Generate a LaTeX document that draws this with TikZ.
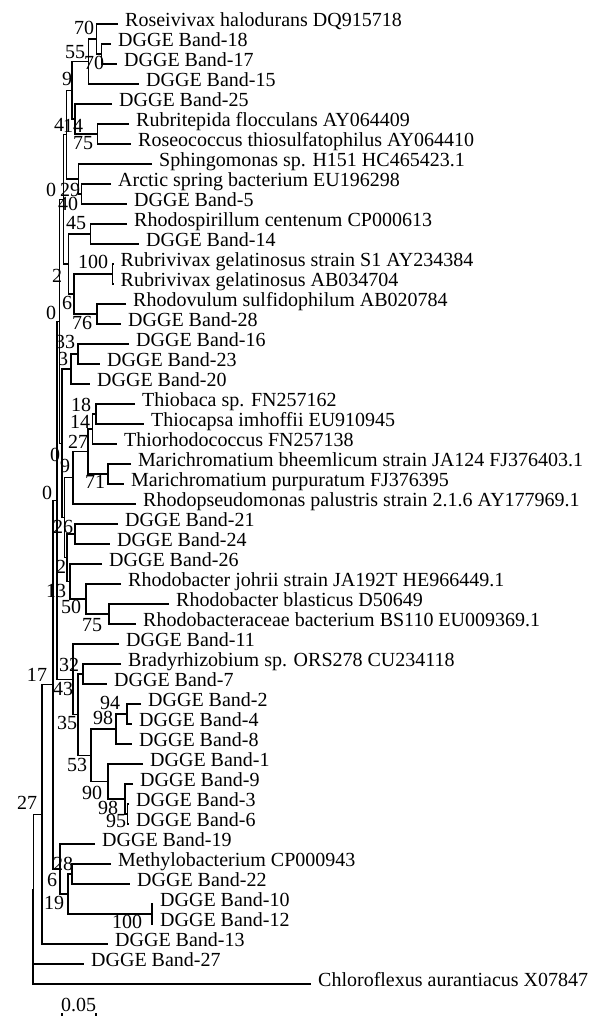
\documentclass[tikz,border=0pt]{standalone}
\usepackage{fontspec}
\setmainfont{Liberation Serif}
\newcommand\treefont{\fontsize{20}{24}\selectfont}
\newcommand\leaf[4]{\coordinate (#1) at (#2,#3); \node[leafnode] (t#1) at (#2+7,#3) {#4};}
\begin{document}
\begin{tikzpicture}[x=1pt,y=-1pt,
  br/.style={line width=1.1pt},
  leafnode/.style={anchor=mid west, inner sep=0pt, font=\treefont},
  bs/.style={inner sep=0pt, font=\treefont}]
\useasboundingbox (0,0) rectangle (594,1016);
% leaves
\leaf{L1}{118}{24}{Roseivivax halodurans DQ915718}
\leaf{L2}{111}{44}{DGGE Band-18}
\leaf{L3}{117}{64}{DGGE Band-17}
\leaf{L4}{139}{84}{DGGE Band-15}
\leaf{L5}{112}{104}{DGGE Band-25}
\leaf{L6}{129}{124}{Rubritepida flocculans AY064409}
\leaf{L7}{131}{144}{Roseococcus thiosulfatophilus AY064410}
\leaf{L8}{152}{164}{Sphingomonas sp. H151 HC465423.1}
\leaf{L9}{111}{184}{Arctic spring bacterium EU196298}
\leaf{L10}{127}{204}{DGGE Band-5}
\leaf{L11}{127}{224}{Rhodospirillum centenum CP000613}
\leaf{L12}{139}{244}{DGGE Band-14}
\leaf{L13}{113.5}{264}{Rubrivivax gelatinosus strain S1 AY234384}
\leaf{L14}{113.5}{284}{Rubrivivax gelatinosus AB034704}
\leaf{L15}{126}{304}{Rhodovulum sulfidophilum AB020784}
\leaf{L16}{121}{324}{DGGE Band-28}
\leaf{L17}{129}{344}{DGGE Band-16}
\leaf{L18}{100}{364}{DGGE Band-23}
\leaf{L19}{90}{384}{DGGE Band-20}
\leaf{L20}{135}{404}{Thiobaca sp. FN257162}
\leaf{L21}{144}{424}{Thiocapsa imhoffii EU910945}
\leaf{L22}{117}{444}{Thiorhodococcus FN257138}
\leaf{L23}{131}{464}{Marichromatium bheemlicum strain JA124 FJ376403.1}
\leaf{L24}{124}{484}{Marichromatium purpuratum FJ376395}
\leaf{L25}{136}{504}{Rhodopseudomonas palustris strain 2.1.6 AY177969.1}
\leaf{L26}{118}{524}{DGGE Band-21}
\leaf{L27}{110}{544}{DGGE Band-24}
\leaf{L28}{102}{564}{DGGE Band-26}
\leaf{L29}{121}{584}{Rhodobacter johrii strain JA192T HE966449.1}
\leaf{L30}{169}{604}{Rhodobacter blasticus D50649}
\leaf{L31}{136}{624}{Rhodobacteraceae bacterium BS110 EU009369.1}
\leaf{L32}{119}{644}{DGGE Band-11}
\leaf{L33}{121}{664}{Bradyrhizobium sp. ORS278 CU234118}
\leaf{L34}{107}{684}{DGGE Band-7}
\leaf{L35}{141}{704}{DGGE Band-2}
\leaf{L36}{132}{724}{DGGE Band-4}
\leaf{L37}{132}{744}{DGGE Band-8}
\leaf{L38}{143}{764}{DGGE Band-1}
\leaf{L39}{133}{784}{DGGE Band-9}
\leaf{L40}{129}{804}{DGGE Band-3}
\leaf{L41}{129}{824}{DGGE Band-6}
\leaf{L42}{95}{844}{DGGE Band-19}
\leaf{L43}{111}{864}{Methylobacterium CP000943}
\leaf{L44}{130}{884}{DGGE Band-22}
\leaf{L45}{153}{904}{DGGE Band-10}
\leaf{L46}{153}{924}{DGGE Band-12}
\leaf{L47}{108}{944}{DGGE Band-13}
\leaf{L48}{84}{964}{DGGE Band-27}
\leaf{L49}{311}{984}{Chloroflexus aurantiacus X07847}
% internal nodes
\coordinate (n70b) at (101.7,54);
\coordinate (n70a) at (96.7,39);
\coordinate (n55) at (88.3,61.5);
\coordinate (n75) at (97.3,134);
\coordinate (n14) at (75,119);
\coordinate (n9) at (72,90.25);
\coordinate (n40) at (81.7,194);
\coordinate (n29) at (78.3,179);
\coordinate (n4) at (66.5,134.6);
\coordinate (n45) at (90.7,234);
\coordinate (n100) at (112.7,274);
\coordinate (n76) at (97,314);
\coordinate (n6) at (74,294);
\coordinate (n2) at (68.5,264);
\coordinate (Q) at (63.5,199.3);
\coordinate (n33) at (78,354);
\coordinate (n3) at (71,369);
\coordinate (n18) at (96,414);
\coordinate (n14b) at (92.3,429);
\coordinate (n71) at (108,474);
\coordinate (n27) at (88,451.5);
\coordinate (n9b) at (73,477.75);
\coordinate (n26) at (75,534);
\coordinate (n75b) at (109,614);
\coordinate (n50) at (86,599);
\coordinate (n13) at (70,581.5);
\coordinate (P2) at (67,557.75);
\coordinate (Tp) at (64.5,517.75);
\coordinate (T) at (62,443.4);
\coordinate (V) at (59.5,321.3);
\coordinate (n32) at (83,674);
\coordinate (n94) at (127,714);
\coordinate (n98a) at (116,729);
\coordinate (n95) at (127.5,814);
\coordinate (n98b) at (125,799);
\coordinate (n90) at (108,781.5);
\coordinate (n53) at (91,755.25);
\coordinate (n35) at (78,714.6);
\coordinate (n43) at (73,679.3);
\coordinate (U) at (57,500.3);
\coordinate (n28) at (72,874);
\coordinate (n100b) at (152,914);
\coordinate (n19) at (68,894);
\coordinate (n6b) at (60,869);
\coordinate (X) at (53,684.7);
\coordinate (nA) at (42,814.3);
\coordinate (R1) at (33.6,889.2);
\coordinate (root) at (33,936.6);
% branches
\draw[br] (L2) -| (n70b) |- (L3);
\draw[br] (L1) -| (n70a) |- (n70b);
\draw[br] (n70a) -| (n55) |- (L4);
\draw[br] (L6) -| (n75) |- (L7);
\draw[br] (L5) -| (n14) |- (n75);
\draw[br] (n55) -| (n9) |- (n14);
\draw[br] (L9) -| (n40) |- (L10);
\draw[br] (L8) -| (n29) |- (n40);
\draw[br] (n9) -| (n4) |- (n29);
\draw[br] (L11) -| (n45) |- (L12);
\draw[br] (L13) -| (n100) |- (L14);
\draw[br] (L15) -| (n76) |- (L16);
\draw[br] (n100) -| (n6) |- (n76);
\draw[br] (n45) -| (n2) |- (n6);
\draw[br] (n4) -| (Q) |- (n2);
\draw[br] (L17) -| (n33) |- (L18);
\draw[br] (n33) -| (n3) |- (L19);
\draw[br] (L20) -| (n18) |- (L21);
\draw[br] (n18) -| (n14b) |- (L22);
\draw[br] (L23) -| (n71) |- (L24);
\draw[br] (n14b) -| (n27) |- (n71);
\draw[br] (n27) -| (n9b) |- (L25);
\draw[br] (L26) -| (n26) |- (L27);
\draw[br] (L30) -| (n75b) |- (L31);
\draw[br] (L29) -| (n50) |- (n75b);
\draw[br] (L28) -| (n13) |- (n50);
\draw[br] (n26) -| (P2) |- (n13);
\draw[br] (n9b) -| (Tp) |- (P2);
\draw[br] (n3) -| (T) |- (Tp);
\draw[br] (Q) -| (V) |- (T);
\draw[br] (L33) -| (n32) |- (L34);
\draw[br] (L35) -| (n94) |- (L36);
\draw[br] (n94) -| (n98a) |- (L37);
\draw[br] (L40) -| (n95) |- (L41);
\draw[br] (L39) -| (n98b) |- (n95);
\draw[br] (L38) -| (n90) |- (n98b);
\draw[br] (n98a) -| (n53) |- (n90);
\draw[br] (n32) -| (n35) |- (n53);
\draw[br] (L32) -| (n43) |- (n35);
\draw[br] (V) -| (U) |- (n43);
\draw[br] (L43) -| (n28) |- (L44);
\draw[br] (L45) -| (n100b) |- (L46);
\draw[br] (n28) -| (n19) |- (n100b);
\draw[br] (L42) -| (n6b) |- (n19);
\draw[br] (U) -| (X) |- (n6b);
\draw[br] (X) -| (nA) |- (L47);
\draw[br] (nA) -| (R1) |- (L48);
\draw[br] (R1) -| (root) |- (L49);
% bootstrap values
\node[bs] (b1) at (84,28) {70};
\node[bs] (b2) at (75,52) {55};
\node[bs] (b3) at (94,63) {70};
\node[bs] (b4) at (67,79) {9};
\node[bs] (b5) at (59,125) {4};
\node[bs] (b6) at (73,126) {14};
\node[bs] (b7) at (83,143) {75};
\node[bs] (b8) at (51,190) {0};
\node[bs] (b9) at (70,190) {29};
\node[bs] (b10) at (68,204) {40};
\node[bs] (b11) at (76,223) {45};
\node[bs] (b12) at (93,262) {100};
\node[bs] (b13) at (57,276) {2};
\node[bs] (b14) at (67,303) {6};
\node[bs] (b15) at (51,313) {0};
\node[bs] (b16) at (82,323) {76};
\node[bs] (b17) at (65,342) {33};
\node[bs] (b18) at (63,359) {3};
\node[bs] (b19) at (81,405) {18};
\node[bs] (b20) at (80,422) {14};
\node[bs] (b21) at (78,442) {27};
\node[bs] (b22) at (55,455) {0};
\node[bs] (b23) at (65,466) {9};
\node[bs] (b24) at (95,482) {71};
\node[bs] (b25) at (47,493) {0};
\node[bs] (b26) at (63,527) {26};
\node[bs] (b27) at (61,567) {2};
\node[bs] (b28) at (56,591) {13};
\node[bs] (b29) at (71,607) {50};
\node[bs] (b30) at (92,625) {75};
\node[bs] (b31) at (69,665) {32};
\node[bs] (b32) at (37,675) {17};
\node[bs] (b33) at (63,689) {43};
\node[bs] (b34) at (110,703) {94};
\node[bs] (b35) at (103,718) {98};
\node[bs] (b36) at (67,723) {35};
\node[bs] (b37) at (77,765) {53};
\node[bs] (b38) at (92,793) {90};
\node[bs] (b39) at (27,803) {27};
\node[bs] (b40) at (108,808) {98};
\node[bs] (b41) at (116,821) {95};
\node[bs] (b42) at (63,864) {28};
\node[bs] (b43) at (52,880) {6};
\node[bs] (b44) at (54,903) {19};
\node[bs] (b45) at (127,922) {100};
% scale bar
\node[bs] (scl) at (78.5,1005) {0.05};
\coordinate (sbL) at (62,1017);
\coordinate (sbR) at (96,1017);
\draw[br] (sbL) -- (sbR);
\draw[br] (sbL) -- ++(0,-4);
\draw[br] (sbR) -- ++(0,-4);
\end{tikzpicture}
\end{document}
